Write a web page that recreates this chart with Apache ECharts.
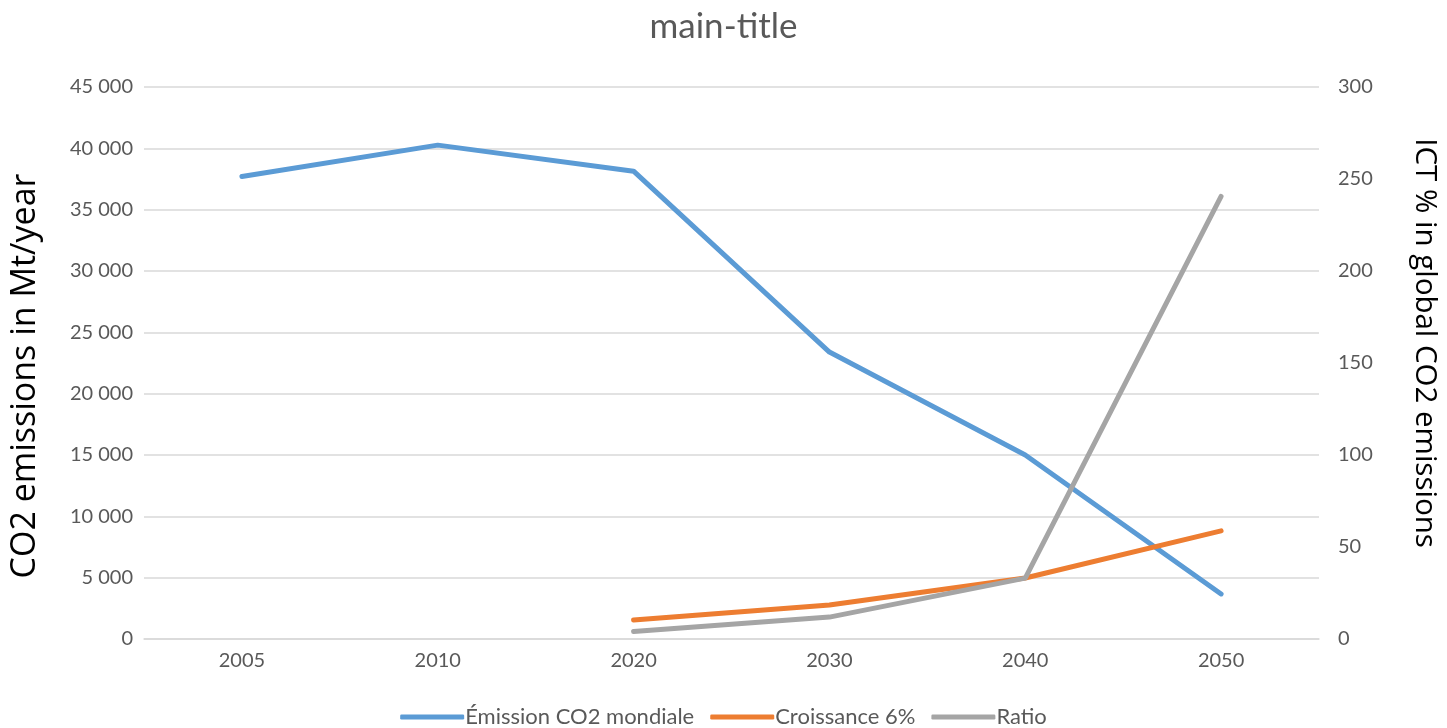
<!DOCTYPE html>
<html>
<head>
<meta charset="utf-8">
<style>
  html, body { margin: 0; padding: 0; background: #fff; }
  #chart { width: 1447px; height: 728px; }
</style>
<script src="https://cdn.jsdelivr.net/npm/echarts@6/dist/echarts.min.js"></script>
</head>
<body>
<div id="chart"></div>
<script>
// Years shown on the category axis
const years = ['2005', '2010', '2020', '2030', '2040', '2050'];

// Global CO2 emissions (Mt/year)
const globalEmissions = [37700, 40260, 38140, 23390, 15000, 3670];

// ICT emissions growing 6% per year (Mt/year)
const ictGrowth = [null, null, 1550, 2776, 4971, 8820];

// ICT share of global emissions (%)
const ictRatio = [null, null, 4.1, 11.9, 33.1, 240.5];

const font = 'Lato, "Open Sans", sans-serif';
const nameFont = '"Open Sans", sans-serif';
const textGrey = '#595959';

function spaced(v) {
  return String(v).replace(/\B(?=(\d{3})+(?!\d))/g, ' ');
}

const chart = echarts.init(document.getElementById('chart'));
chart.setOption({
  backgroundColor: '#ffffff',
  animation: false,
  title: {
    text: 'main-title',
    left: 'center',
    top: 4,
    textStyle: { fontFamily: font, fontSize: 35, fontWeight: 'normal', color: textGrey }
  },
  legend: {
    bottom: -5,
    left: 'center',
    itemWidth: 64,
    itemHeight: 5,
    itemGap: 16,
    icon: 'roundRect',
    textStyle: { fontFamily: font, fontSize: 22, color: textGrey, padding: [0, 0, 0, -4] },
    data: ['Émission CO2 mondiale', 'Croissance 6%', 'Ratio']
  },
  grid: { left: 143, right: 119, top: 87, bottom: 89, containLabel: false },
  xAxis: {
    type: 'category',
    data: years,
    boundaryGap: true,
    axisLine: { show: true, lineStyle: { color: '#d9d9d9', width: 1.5 } },
    axisTick: { show: false },
    axisLabel: { fontFamily: font, fontSize: 20, color: textGrey, margin: 12 }
  },
  yAxis: [
    {
      type: 'value',
      min: 0, max: 45000, interval: 5000,
      name: 'CO2 emissions in Mt/year',
      nameLocation: 'middle',
      nameGap: 102,
      nameTextStyle: { fontFamily: nameFont, fontSize: 34, color: '#000', padding: [0, 26, 0, 0] },
      axisLine: { show: false },
      axisTick: { show: false },
      axisLabel: { fontFamily: font, fontSize: 20, color: textGrey, margin: 11, formatter: spaced },
      splitLine: { lineStyle: { color: '#d9d9d9', width: 1.5 } }
    },
    {
      type: 'value',
      min: 0, max: 300, interval: 50,
      name: 'ICT % in global CO2 emissions',
      nameLocation: 'middle',
      nameGap: 90,
      nameRotate: -90,
      nameTextStyle: { fontFamily: nameFont, fontSize: 29.5, color: '#000', padding: [0, 40, 0, 0] },
      axisLine: { show: false },
      axisTick: { show: false },
      axisLabel: { fontFamily: font, fontSize: 20, color: textGrey, margin: 19 },
      splitLine: { show: false }
    }
  ],
  series: [
    {
      name: 'Émission CO2 mondiale',
      type: 'line',
      yAxisIndex: 0,
      data: globalEmissions,
      showSymbol: false,
      color: '#5B9BD5',
      lineStyle: { width: 5, cap: 'round', join: 'round' }
    },
    {
      name: 'Croissance 6%',
      type: 'line',
      yAxisIndex: 0,
      data: ictGrowth,
      showSymbol: false,
      color: '#ED7D31',
      lineStyle: { width: 5, cap: 'round', join: 'round' }
    },
    {
      name: 'Ratio',
      type: 'line',
      yAxisIndex: 1,
      data: ictRatio,
      showSymbol: false,
      color: '#A5A5A5',
      lineStyle: { width: 5, cap: 'round', join: 'round' }
    }
  ]
});
</script>
</body>
</html>
